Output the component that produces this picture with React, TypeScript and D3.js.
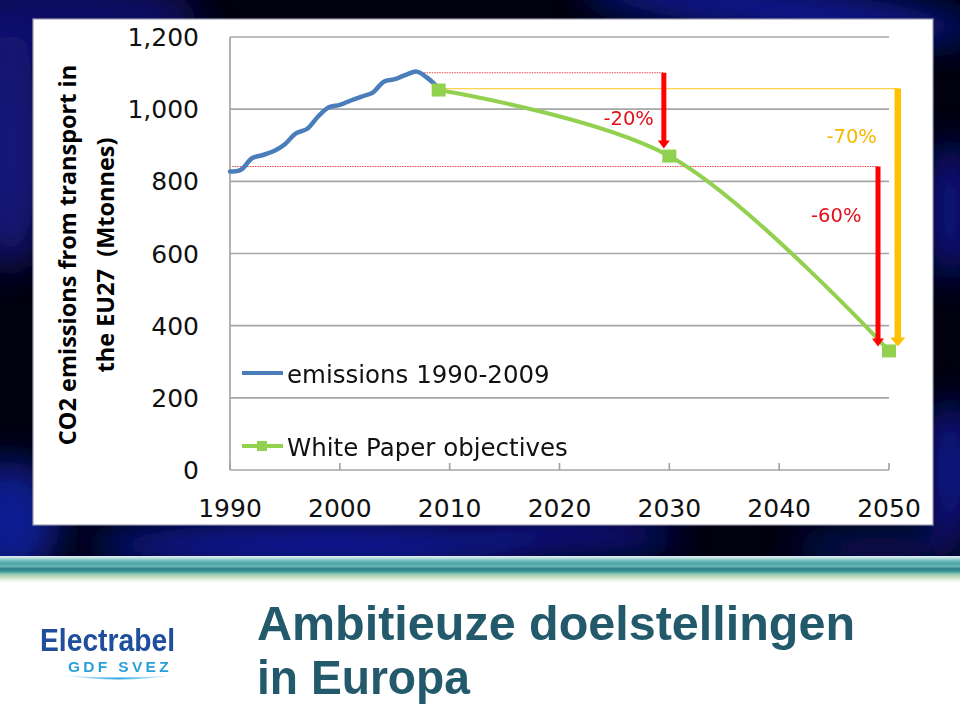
import React from 'react';
import * as d3 from 'd3';

// ---------- data ----------
const emissionYears = [1990, 1991, 1992, 1993, 1994, 1995, 1996, 1997, 1998, 1999, 2000, 2001, 2002, 2003, 2004, 2005, 2006, 2007, 2008, 2009];
const emissionValues = [827, 832, 864, 873, 884, 903, 933, 945, 979, 1005, 1012, 1024, 1035, 1046, 1076, 1083, 1095, 1104, 1086, 1058];
const objectiveYears = [2009, 2030, 2050];
const objectiveValues = [1053, 870, 330];
const yTicks = [0, 200, 400, 600, 800, 1000, 1200];
const xTicks = [1990, 2000, 2010, 2020, 2030, 2040, 2050];
const seriesNames = ['emissions 1990-2009', 'White Paper objectives'];
const yTitleLines = ['CO2 emissions from transport in', 'the EU27  (Mtonnes)'];
// reference levels (value, from-year, to-year)
const refLevelValues = [1101, 841, 1057];
const refLevelFrom = [2007, 1990.2, 2009];
const refLevelTo = [2029.5, 2049, 2050.8];
// reduction arrows (year, from value, to value) and labels
const arrowYears = [2029.5, 2049, 2050.8];
const arrowFrom = [1101, 841, 1057];
const arrowTo = [891, 342, 342];
const reductionLabels = ['-20%', '-60%', '-70%'];
const labelYears = [2026.3, 2045.2, 2046.6];
const labelValues = [956, 687, 906];
const titleLines = ['Ambitieuze doelstellingen', 'in Europa'];

const W = 960;
const H = 707;
const plot = { left: 230, right: 889, top: 37, bottom: 470 };

export default function App() {
  const x = d3.scaleLinear().domain([1990, 2050]).range([plot.left, plot.right]);
  const y = d3.scaleLinear().domain([0, 1200]).range([plot.bottom, plot.top]);

  const blueLine = d3
    .line<number>()
    .x((_, i) => x(emissionYears[i]))
    .y((d) => y(d))
    .curve(d3.curveCatmullRom.alpha(0.5))(emissionValues) as string;

  const greenLine = d3
    .line<number>()
    .x((_, i) => x(objectiveYears[i]))
    .y((d) => y(d))
    .curve(d3.curveCatmullRom.alpha(0.5))(objectiveValues) as string;

  const refColors = ['#e8454a', '#e8454a', '#ffd24d'];
  const arrowColors = ['#ff0000', '#ff0000', '#ffc000'];
  const arrowWidths = [5, 5, 6.5];
  const labelColors = ['#e3101a', '#e3101a', '#f5b800'];

  const tickFont = "'DejaVu Sans', sans-serif";

  return (
    <svg width={W} height={H} viewBox={`0 0 ${W} ${H}`} style={{ position: 'absolute', left: 0, top: 0, display: 'block' }}>
      <defs>
        <filter id="blurBig" x="-50%" y="-50%" width="200%" height="200%">
          <feGaussianBlur stdDeviation="18" />
        </filter>
        <clipPath id="darkClip">
          <rect x={0} y={0} width={W} height={556} />
        </clipPath>
        <linearGradient id="stripe" x1="0" y1="0" x2="0" y2="1">
          <stop offset="0" stopColor="#e4ecf2" />
          <stop offset="0.06" stopColor="#c7e4e4" />
          <stop offset="0.16" stopColor="#7cc3c1" />
          <stop offset="0.28" stopColor="#4aa6a6" />
          <stop offset="0.38" stopColor="#6ab8b6" />
          <stop offset="0.48" stopColor="#2b7b83" />
          <stop offset="0.58" stopColor="#3e9c9c" />
          <stop offset="0.68" stopColor="#9ccab8" />
          <stop offset="0.8" stopColor="#c8e0bf" />
          <stop offset="0.9" stopColor="#eaf4e6" />
          <stop offset="1" stopColor="#ffffff" />
        </linearGradient>
        <linearGradient id="swoosh" x1="0" y1="0" x2="1" y2="0">
          <stop offset="0" stopColor="#9fd6f2" stopOpacity="0.2" />
          <stop offset="0.5" stopColor="#2aa3e0" />
          <stop offset="1" stopColor="#9fd6f2" stopOpacity="0.2" />
        </linearGradient>
      </defs>

      {/* slide background */}
      <rect x={0} y={0} width={W} height={H} fill="#ffffff" />
      <g clipPath="url(#darkClip)">
        <rect x={0} y={0} width={W} height={556} fill="#01010f" />
        <g filter="url(#blurBig)">
          <ellipse cx={60} cy={20} rx={140} ry={45} fill="#0c0c66" />
          <ellipse cx={10} cy={150} rx={40} ry={120} fill="#12127a" />
          <ellipse cx={10} cy={520} rx={50} ry={60} fill="#0d1a90" />
          <ellipse cx={330} cy={545} rx={240} ry={22} fill="#0a1ca8" />
          <ellipse cx={560} cy={535} rx={120} ry={18} fill="#0a1690" />
          <ellipse cx={780} cy={10} rx={200} ry={22} fill="#0c1aa0" transform="rotate(6 780 10)" />
          <ellipse cx={950} cy={210} rx={22} ry={70} fill="#0b1890" />
          <ellipse cx={950} cy={470} rx={25} ry={70} fill="#0b1890" />
          <ellipse cx={880} cy={548} rx={90} ry={14} fill="#0a1470" />
        </g>
      </g>

      {/* chart panel */}
      <rect x={33} y={19} width={900} height={506} fill="#ffffff" stroke="#9c9cb0" strokeWidth={1.2} />

      {/* gridlines */}
      {yTicks.map((t) => (
        <line key={`g${t}`} x1={plot.left} x2={plot.right} y1={y(t)} y2={y(t)} stroke="#a6a6a6" strokeWidth={1.6} />
      ))}
      {/* y axis */}
      <line x1={plot.left} x2={plot.left} y1={plot.top} y2={plot.bottom} stroke="#a0a0a0" strokeWidth={1.6} />
      {/* x ticks */}
      {xTicks.map((t) => (
        <line key={`xt${t}`} x1={x(t)} x2={x(t)} y1={plot.bottom} y2={plot.bottom - 7} stroke="#a0a0a0" strokeWidth={1.6} />
      ))}

      {/* y tick labels */}
      {yTicks.map((t) => (
        <text key={`yl${t}`} x={199} y={y(t) + 9} textAnchor="end" fontFamily={tickFont} fontSize={25} fill="#111">
          {d3.format(',')(t)}
        </text>
      ))}
      {/* x tick labels */}
      {xTicks.map((t) => (
        <text key={`xl${t}`} x={x(t)} y={517} textAnchor="middle" fontFamily={tickFont} fontSize={25} fill="#111">
          {t}
        </text>
      ))}

      {/* y axis title */}
      {yTitleLines.map((s, i) => (
        <text
          key={`yt${i}`}
          transform={`translate(${i === 0 ? 76 : 114},255) rotate(-90)`}
          textAnchor="middle"
          fontFamily="'Open Sans', sans-serif"
          fontWeight="bold"
          fontSize={23.5}
          fill="#000"
          style={{ whiteSpace: 'pre' }}
        >
          {s}
        </text>
      ))}

      {/* reference level lines */}
      {refLevelValues.map((v, i) => (
        <line
          key={`rl${i}`}
          x1={x(refLevelFrom[i])}
          x2={x(refLevelTo[i])}
          y1={y(v)}
          y2={y(v)}
          stroke={refColors[i]}
          strokeWidth={1.1}
          strokeDasharray={i < 2 ? '1.5 1' : undefined}
        />
      ))}

      {/* series */}
      <path d={blueLine} fill="none" stroke="#4a7ebb" strokeWidth={4.5} strokeLinejoin="round" strokeLinecap="round" />
      <path d={greenLine} fill="none" stroke="#92d050" strokeWidth={4} strokeLinejoin="round" />

      {/* arrows */}
      {arrowYears.map((yr, i) => {
        const ax = x(yr);
        const y0 = y(arrowFrom[i]);
        const y1 = y(arrowTo[i]);
        const hw = i === 2 ? 7.5 : 6;
        const hh = i === 2 ? 9 : 8;
        return (
          <g key={`ar${i}`}>
            <line x1={ax} x2={ax} y1={y0} y2={y1 - hh + 1} stroke={arrowColors[i]} strokeWidth={arrowWidths[i]} />
            <polygon points={`${ax - hw},${y1 - hh} ${ax + hw},${y1 - hh} ${ax},${y1}`} fill={arrowColors[i]} />
          </g>
        );
      })}

      {/* markers */}
      {objectiveValues.map((v, i) => (
        <rect key={`m${i}`} x={x(objectiveYears[i]) - 7} y={y(v) - 6.5} width={14} height={13} fill="#92d050" />
      ))}

      {/* reduction labels */}
      {reductionLabels.map((s, i) => (
        <text key={`lb${i}`} x={x(labelYears[i])} y={y(labelValues[i])} textAnchor="middle" fontFamily={tickFont} fontSize={19.5} fill={labelColors[i]}>
          {s}
        </text>
      ))}

      {/* legend */}
      <line x1={242} x2={283} y1={373} y2={373} stroke="#4a7ebb" strokeWidth={4} />
      <text x={287} y={383} fontFamily={tickFont} fontSize={24.5} fill="#111">
        {seriesNames[0]}
      </text>
      <line x1={242} x2={283} y1={446} y2={446} stroke="#92d050" strokeWidth={4} />
      <rect x={257} y={441} width={10} height={10} fill="#92d050" />
      <text x={287} y={456} fontFamily={tickFont} fontSize={24.5} fill="#111">
        {seriesNames[1]}
      </text>

      {/* bottom stripe */}
      <rect x={0} y={556} width={W} height={27} fill="url(#stripe)" />

      {/* logo */}
      <text x={40} y={651} fontFamily="'Liberation Sans', Arial, sans-serif" fontWeight="bold" fontSize={31} textLength={135} lengthAdjust="spacingAndGlyphs" fill="#1f4f9c">
        Electrabel
      </text>
      <text x={68} y={672} fontFamily="'Liberation Sans', Arial, sans-serif" fontWeight="bold" fontSize={14} textLength={104} lengthAdjust="spacingAndGlyphs" fill="#2a9fd8" letterSpacing={3}>
        GDF SVEZ
      </text>
      <path d="M62,675 Q118,684 175,675 Q118,680 62,675 Z" fill="url(#swoosh)" />

      {/* title */}
      {titleLines.map((s, i) => (
        <text
          key={`tt${i}`}
          x={257}
          y={i === 0 ? 640 : 694}
          fontFamily="'Liberation Sans', Arial, sans-serif"
          fontWeight="bold"
          fontSize={49}
          textLength={i === 0 ? 598 : 213}
          lengthAdjust="spacingAndGlyphs"
          fill="#235a6b"
        >
          {s}
        </text>
      ))}
    </svg>
  );
}
